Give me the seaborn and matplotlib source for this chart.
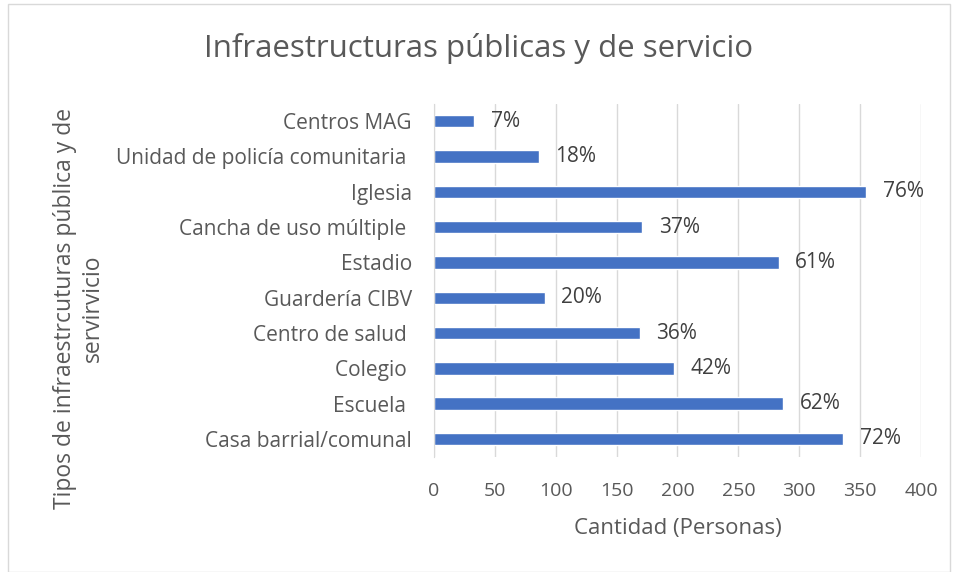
import matplotlib
matplotlib.use('Agg')
import matplotlib.pyplot as plt
import seaborn as sns
from matplotlib.patches import Rectangle

# Datos (de arriba hacia abajo)
categorias = ['Centros MAG', 'Unidad de policía comunitaria ', 'Iglesia',
              'Cancha de uso múltiple ', 'Estadio', 'Guardería CIBV',
              'Centro de salud ', 'Colegio ', 'Escuela ', 'Casa barrial/comunal']
cantidad = [33, 86, 355, 171, 283, 91, 169, 197, 287, 336]
porcentajes = [7, 18, 76, 37, 61, 20, 36, 42, 62, 72]
ticks_x = [0, 50, 100, 150, 200, 250, 300, 350, 400]

sns.set_style('white')
plt.rcParams['font.family'] = ['Open Sans', 'DejaVu Sans']

gris = '#595959'
fig = plt.figure(figsize=(9.58, 5.72), dpi=100)
ax = fig.add_axes([0.453, 0.2017, 0.5084, 0.6173])

sns.barplot(x=cantidad, y=categorias, orient='h', color='#4472C4',
            width=0.35, saturation=1, ax=ax)

ax.set_xlim(0, 400)
ax.set_xticks(ticks_x)
ax.xaxis.grid(True, color='#d9d9d9', linewidth=1)
ax.set_axisbelow(True)
for s in ['top', 'right', 'bottom']:
    ax.spines[s].set_visible(False)
ax.spines['left'].set_color('#d9d9d9')
ax.tick_params(axis='x', length=0, pad=18, labelsize=14, labelcolor=gris)
ax.tick_params(axis='y', length=0, pad=16, labelsize=15, labelcolor=gris)

ax.bar_label(ax.containers[0], labels=[f'{p}%' for p in porcentajes],
             padding=12, fontsize=15, color='#404040')

ax.set_xlabel('Cantidad (Personas)', fontsize=16, color=gris, labelpad=13)
ax.set_ylabel('')
fig.text(79 / 958, 1 - 308 / 572,
         'Tipos de infraestrcuturas pública y de\nservirvicio',
         rotation=90, ha='center', va='center', multialignment='center',
         fontsize=16.5, color=gris, linespacing=1.25)

fig.suptitle('Infraestructuras públicas y de servicio', y=1 - 49 / 572,
             va='center', fontsize=22.5, color=gris)

fig.patches.append(Rectangle((8 / 958, 0), 942 / 958, 1 - 4 / 572,
                             transform=fig.transFigure, fill=False,
                             edgecolor='#d9d9d9', linewidth=1))

fig.savefig('out.png', dpi=100)
